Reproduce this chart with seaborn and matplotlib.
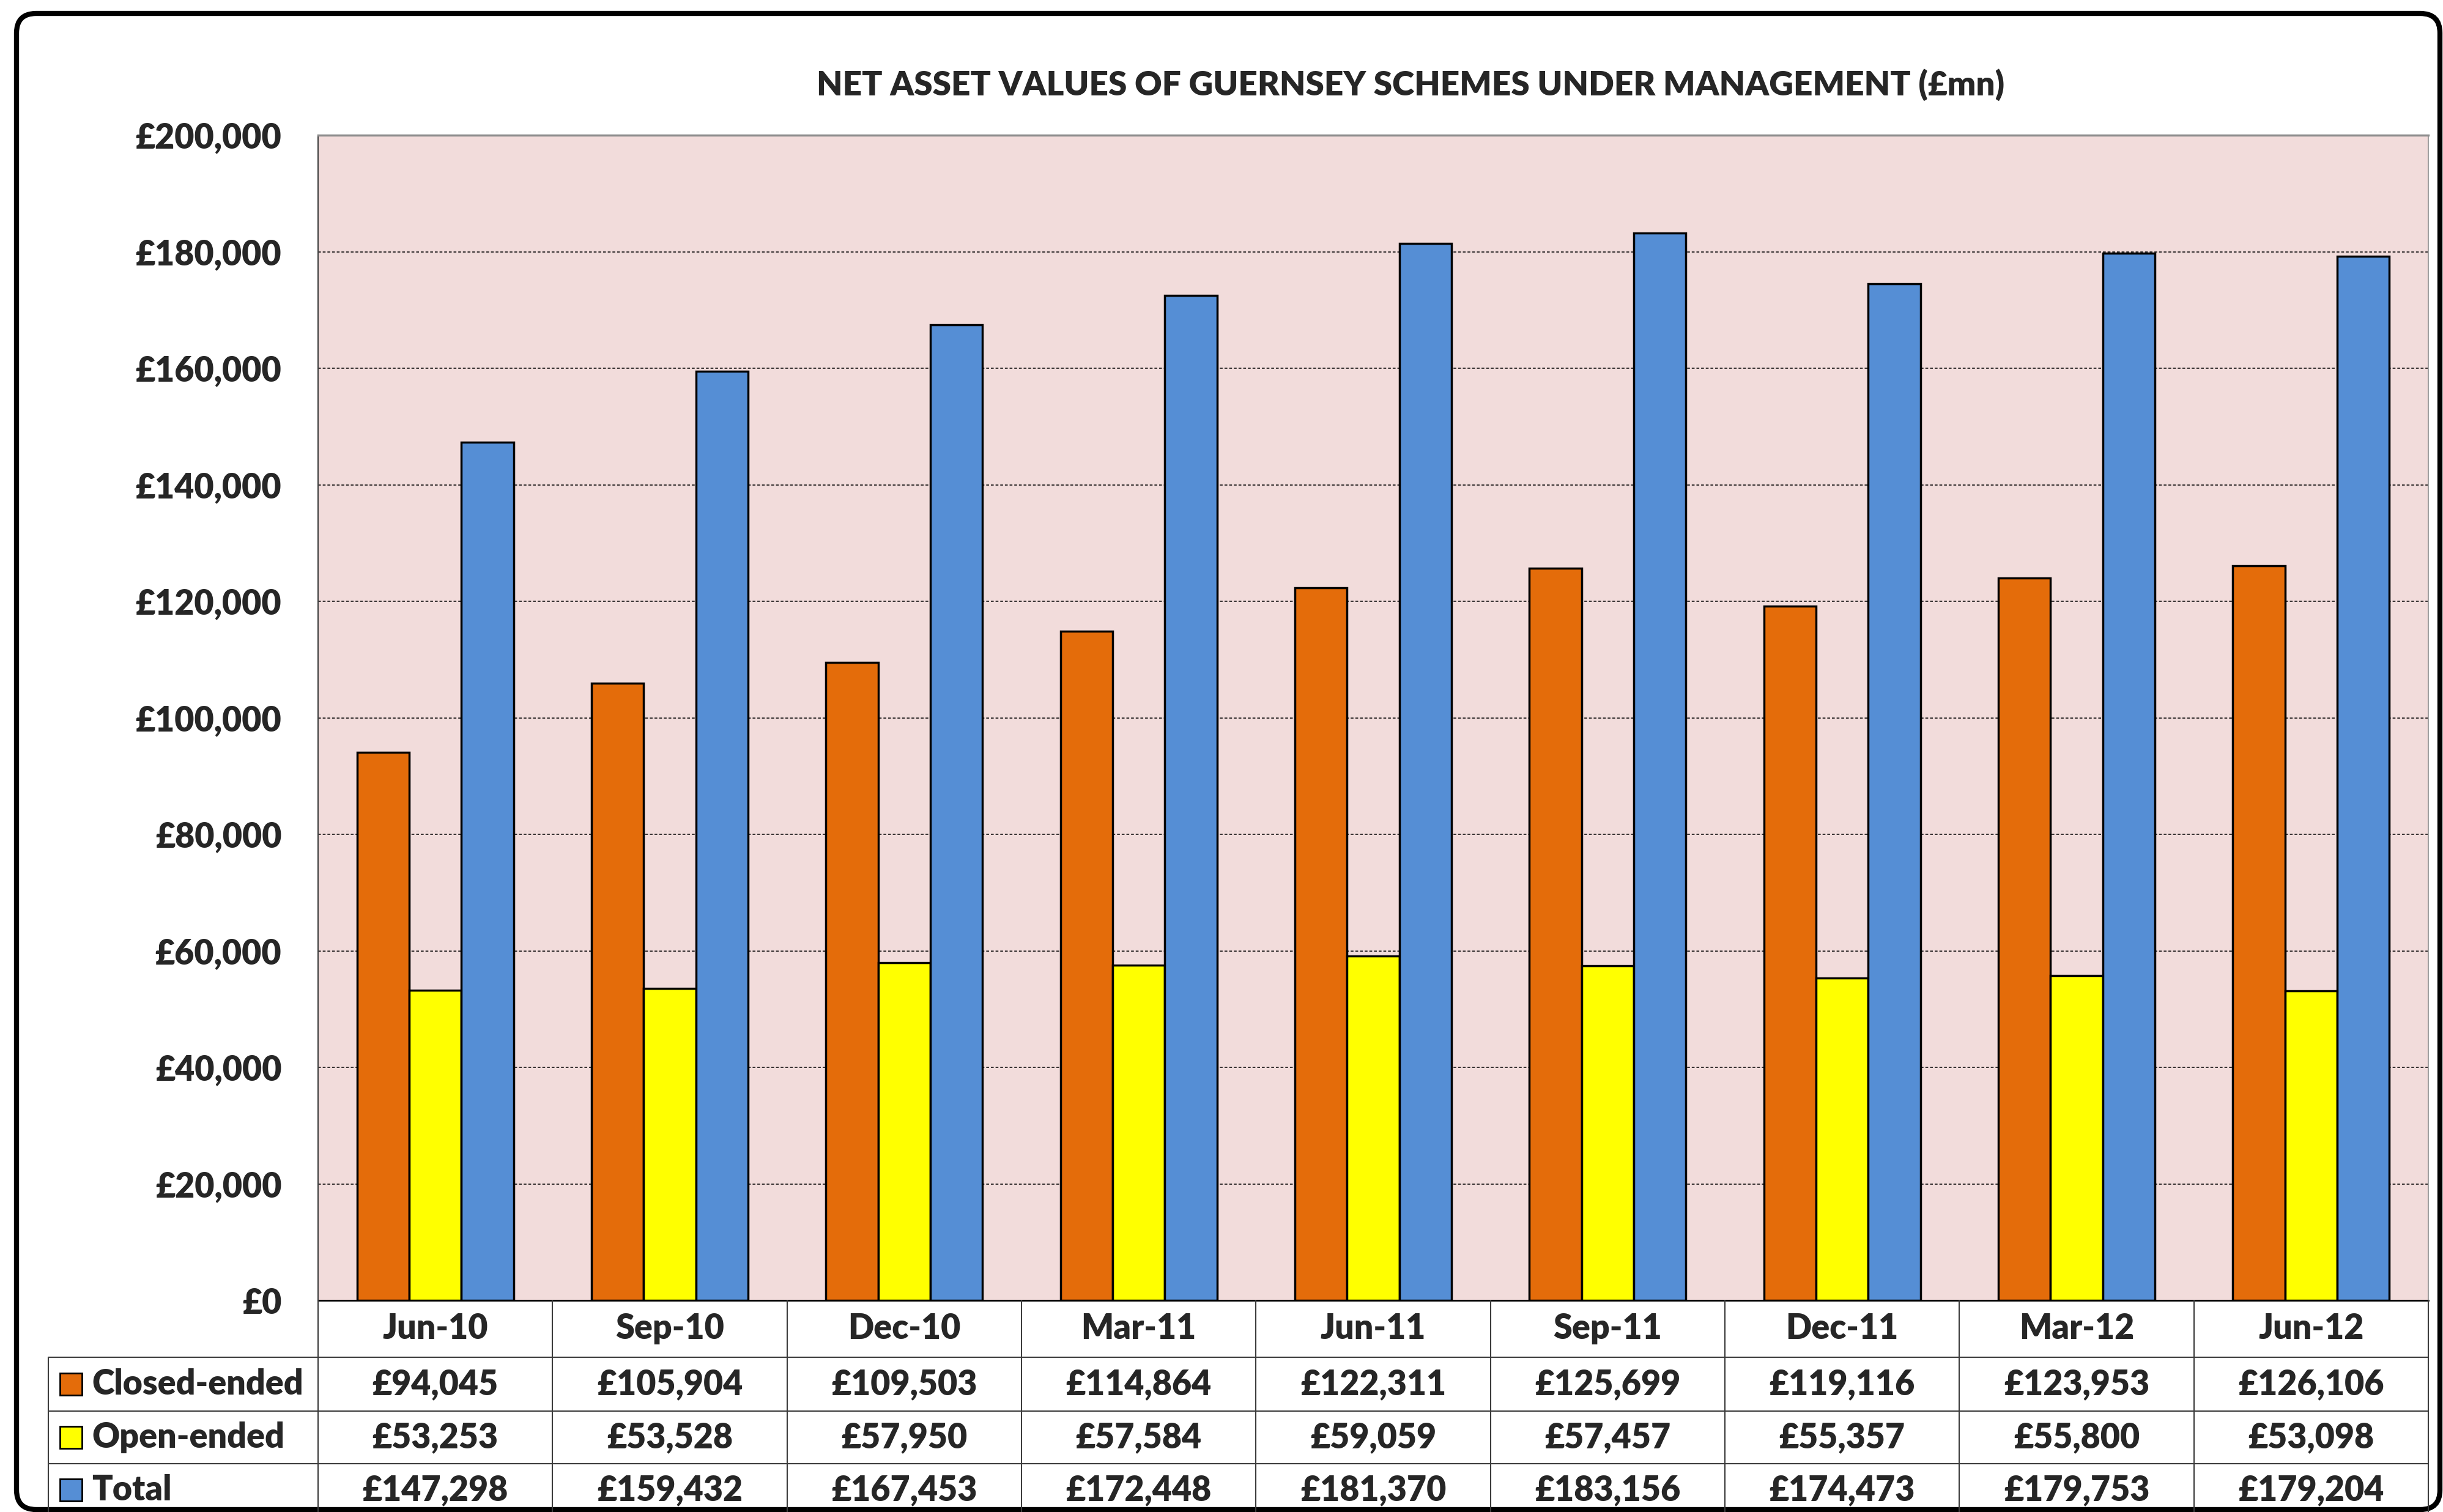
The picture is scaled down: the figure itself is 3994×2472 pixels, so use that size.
#!/usr/bin/env python3
"""Net asset values of Guernsey schemes - bar chart with data table underneath."""

import pandas as pd
import matplotlib
matplotlib.use("Agg")
import matplotlib.pyplot as plt
import matplotlib.transforms as mtransforms
from matplotlib.patches import FancyBboxPatch, Rectangle
import seaborn as sns

periods = ["Jun-10", "Sep-10", "Dec-10", "Mar-11", "Jun-11",
           "Sep-11", "Dec-11", "Mar-12", "Jun-12"]
series_names = ["Closed-ended", "Open-ended", "Total"]
closed_ended = [94045, 105904, 109503, 114864, 122311, 125699, 119116, 123953, 126106]
open_ended = [53253, 53528, 57950, 57584, 59059, 57457, 55357, 55800, 53098]
total = [147298, 159432, 167453, 172448, 181370, 183156, 174473, 179753, 179204]
y_ticks = list(range(0, 200001, 20000))
title = "NET ASSET VALUES OF GUERNSEY SCHEMES UNDER MANAGEMENT (£mn)"

colors = {"Closed-ended": "#E46C0A", "Open-ended": "#FFFF00", "Total": "#558ED5"}

df = pd.DataFrame({"period": periods * 3,
                   "series": [s for s in series_names for _ in periods],
                   "value": closed_ended + open_ended + total})

sns.set_style("white")
plt.rcParams["font.family"] = ["Lato", "DejaVu Sans"]
WEIGHT = "heavy"

W, H = 3994, 2472
fig = plt.figure(figsize=(W / 100, H / 100), dpi=100)

# pixel-space overlay for frame, title and table
overlay = fig.add_axes([0, 0, 1, 1], zorder=3)
overlay.set_xlim(0, W)
overlay.set_ylim(H, 0)
overlay.axis("off")

# plot area
left, right, top, bottom = 520, 3970, 221, 2126
ax = fig.add_axes([left / W, 1 - bottom / H, (right - left) / W, (bottom - top) / H])
sns.barplot(data=df, x="period", y="value", hue="series", order=periods,
            hue_order=series_names, palette=colors, width=0.667, saturation=1,
            edgecolor="black", linewidth=2.5, legend=False, ax=ax)
ax.set_facecolor("#F2DCDB")
ax.set_ylim(0, 200000)
ax.set_xlim(-0.5, len(periods) - 0.5)
ax.set_yticks(y_ticks)
ax.set_yticklabels([f"£{v:,}" for v in y_ticks], fontsize=40, fontweight=WEIGHT)
ax.set_xticks([])
ax.set_xlabel("")
ax.set_ylabel("")
ax.tick_params(axis="y", length=0, pad=43)
ax.yaxis.grid(True, linestyle=(0, (3, 2)), color="black", linewidth=1.1)
ax.set_axisbelow(True)
ax.spines["top"].set_color("#8C8C8C")
ax.spines["top"].set_linewidth(2.5)
ax.spines["right"].set_color("#A0A0A0")
ax.spines["right"].set_linewidth(1.5)
ax.spines["left"].set_color("#404040")
ax.spines["left"].set_linewidth(1.5)
ax.spines["bottom"].set_color("black")
ax.spines["bottom"].set_linewidth(2)

# title
overlay.text(2306, 139, title, ha="center", va="center", fontsize=39.5, fontweight=WEIGHT)

# data table: x in category units, y in pixels
trans = mtransforms.blended_transform_factory(ax.transData, overlay.transData)
line_kw = dict(color="#3C3C3C", linewidth=1.5, clip_on=False)
row_edges = [2126, 2219, 2307, 2393]
row_centers = [2263, 2350, 2436]

for i in range(len(periods) + 1):
    overlay.plot([i - 0.5, i - 0.5], [bottom, H], transform=trans, **line_kw)
for y in row_edges[1:]:
    overlay.plot([79, right], [y, y], **line_kw)
overlay.plot([79, 79], [row_edges[1], H], **line_kw)

for i, p in enumerate(periods):
    overlay.text(i, 2172, p, transform=trans, ha="center", va="center",
                 fontsize=40, fontweight=WEIGHT)

for name, vals, yc in zip(series_names, [closed_ended, open_ended, total], row_centers):
    overlay.add_patch(Rectangle((98, yc - 18), 36, 36, facecolor=colors[name],
                                edgecolor="black", linewidth=2))
    overlay.text(150, yc, name, ha="left", va="center", fontsize=40, fontweight=WEIGHT)
    for i, v in enumerate(vals):
        overlay.text(i, yc, f"£{v:,}", transform=trans, ha="center", va="center",
                     fontsize=40, fontweight=WEIGHT)

# rounded outer chart frame
r = 32
overlay.add_patch(FancyBboxPatch((27 + r, 22 + r), 3962 - 2 * r, 2446 - 2 * r,
                                 boxstyle=f"round,pad={r}", fill=False,
                                 edgecolor="black", linewidth=6))

fig.savefig("out.png", dpi=100)
plt.close(fig)
